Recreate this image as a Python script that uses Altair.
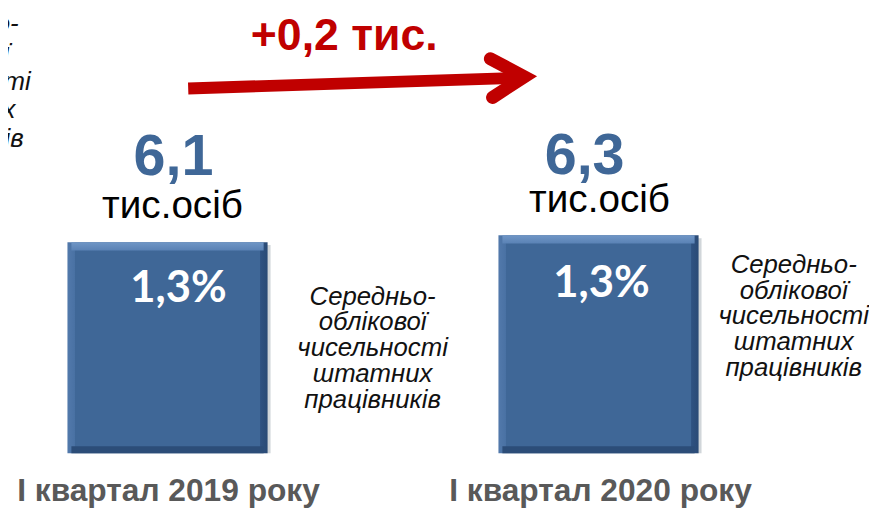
import altair as alt
import pandas as pd

# ---- data -------------------------------------------------------------
periods = ["I квартал 2019 року", "I квартал 2020 року"]
period_index = [0, 1]
values = [6.1, 6.3]                       # тис. осіб
value_labels = ["6,1", "6,3"]
unit_label = "тис.осіб"
share_labels = ["1,3%", "1,3%"]
note_lines = ["Середньо-", "облікової", "чисельності", "штатних", "працівників"]
delta_label = "+0,2 тис."

# arrow annotation in (period index, value) units
arrow_shaft_idx = [0.048, 0.818]
arrow_shaft_val = [10.54, 10.85]
arrow_head_idx = [0.749, 0.828, 0.754]
arrow_head_val = [11.40, 10.88, 10.28]

# ---- tables -----------------------------------------------------------
df = pd.DataFrame({
    "idx": period_index,
    "period": periods,
    "value": values,
    "vlabel": value_labels,
    "share": share_labels,
    "unit": [unit_label] * len(values),
    "note": ["\n".join(note_lines)] * len(values),
    "zero": [0.0] * len(values),
})
shaft = pd.DataFrame({"idx": arrow_shaft_idx, "value": arrow_shaft_val,
                      "o": list(range(len(arrow_shaft_idx)))})
head = pd.DataFrame({"idx": arrow_head_idx, "value": arrow_head_val,
                     "o": list(range(len(arrow_head_idx)))})
delta = pd.DataFrame({"idx": [sum(arrow_shaft_idx) / 2], "value": [max(arrow_shaft_val)],
                      "label": [delta_label]})

XS = alt.Scale(domain=[0, 1], range=[161, 596], zero=False, nice=False, padding=0)
YS = alt.Scale(domain=[0, 12.8], range=[447, 0], zero=True, nice=False)


def X(f="idx"):
    return alt.X(f"{f}:Q", scale=XS, axis=None)


def Y(f="value"):
    return alt.Y(f"{f}:Q", scale=YS, axis=None)


BLUE = "#3F6797"
base = alt.Chart(df)

shadow = base.mark_bar(size=202, orient="vertical", color="#9AA3AE", opacity=0.45,
                       xOffset=3, yOffset=3).encode(x=X(), y=Y(), y2=alt.Y2("zero:Q"))

body = base.mark_bar(size=202, orient="vertical", color=alt.Gradient(
    gradient="linear", x1=0, x2=1, y1=0, y2=0,
    stops=[alt.GradientStop(offset=0, color="#5279AB"),
           alt.GradientStop(offset=0.035, color="#4A72A4"),
           alt.GradientStop(offset=0.04, color=BLUE),
           alt.GradientStop(offset=0.96, color=BLUE),
           alt.GradientStop(offset=0.965, color="#2F5281"),
           alt.GradientStop(offset=1, color="#2A4A75")])
).encode(x=X(), y=Y(), y2=alt.Y2("zero:Q"))

top_band = base.transform_calculate(t2="datum.value - 0.24").mark_bar(
    size=194, orient="vertical", color=alt.Gradient(
        gradient="linear", x1=0, x2=0, y1=0, y2=1,
        stops=[alt.GradientStop(offset=0, color="#7096C6"),
               alt.GradientStop(offset=1, color="#5A82B5")])
).encode(x=X(), y=Y(), y2=alt.Y2("t2:Q"))

bottom_band = base.transform_calculate(b2="0.2").mark_bar(
    size=194, orient="vertical", color="#2C4D78"
).encode(x=X(), y=Y("zero"), y2=alt.Y2("b2:Q"))

layers = [shadow, body, top_band, bottom_band]

# per-bar text offsets (style only)
val_off = [(6, -68), (-14, -62)]
unit_off = [(5, -24), (1, -23)]
share_off = [(11, 60), (3, 62)]
note_off = [(207, 63), (197, 38)]
period_off = [(1, 48), (2, 48)]

for i in period_index:
    b = base.transform_filter(alt.datum.idx == i)
    layers.append(b.mark_text(font="Liberation Sans", fontWeight="bold", fontSize=58,
                              color=BLUE, baseline="alphabetic", align="center",
                              dx=val_off[i][0], dy=val_off[i][1]
                              ).encode(x=X(), y=Y(), text="vlabel:N"))
    layers.append(b.mark_text(font="Liberation Sans", fontSize=39, color="#000000",
                              baseline="alphabetic", align="center",
                              dx=unit_off[i][0], dy=unit_off[i][1]
                              ).encode(x=X(), y=Y(), text="unit:N"))
    layers.append(b.mark_text(font="Lato", fontWeight="bold", fontSize=44, color="#FFFFFF",
                              baseline="alphabetic", align="center",
                              dx=share_off[i][0], dy=share_off[i][1]
                              ).encode(x=X(), y=Y(), text="share:N"))
    layers.append(b.mark_text(font="Liberation Sans", fontStyle="italic", fontSize=26,
                              color="#111111", baseline="alphabetic", align="center",
                              lineBreak="\n", lineHeight=26,
                              dx=note_off[i][0], dy=note_off[i][1]
                              ).encode(x=X(), y=Y(), text="note:N"))
    layers.append(b.mark_text(font="Liberation Sans", fontWeight="bold", fontSize=32,
                              color="#595959", baseline="alphabetic", align="center",
                              dx=period_off[i][0], dy=period_off[i][1]
                              ).encode(x=X(), y=Y("zero"), text="period:N"))

# partly visible note from the neighbouring slide element (top-left)
layers.append(base.transform_filter(alt.datum.idx == 0).mark_text(
    font="Liberation Sans", fontStyle="italic", fontSize=26, color="#111111",
    baseline="alphabetic", align="center", lineBreak="\n", lineHeight=29,
    dx=-214, dy=-212).encode(x=X(), y=Y(), text="note:N"))

# arrow
layers.append(alt.Chart(shaft).mark_line(color="#C00000", strokeWidth=12, strokeCap="butt")
              .encode(x=X(), y=Y(), order="o:Q"))
layers.append(alt.Chart(head).mark_line(color="#C00000", strokeWidth=13, strokeCap="round",
                                        strokeJoin="miter")
              .encode(x=X(), y=Y(), order="o:Q"))
layers.append(alt.Chart(delta).mark_text(font="Liberation Sans", fontWeight="bold", fontSize=45,
                                         color="#C00000", baseline="alphabetic", align="center",
                                         dx=-10, dy=-28)
              .encode(x=X(), y=Y(), text="label:N"))

chart = alt.layer(*layers).properties(
    width=869, height=501, autosize=alt.AutoSizeParams(type="none"), padding=0,
    background="#FFFFFF"
).configure_view(stroke=None)

chart.save("out.html", embed_options={"renderer": "svg", "actions": False})
